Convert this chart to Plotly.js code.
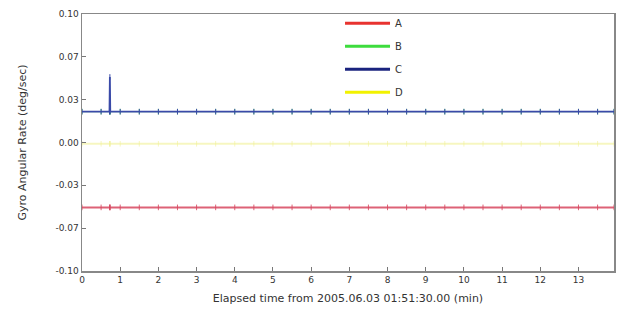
<!DOCTYPE html>
<html>
<head>
<meta charset="utf-8">
<script src="https://cdn.plot.ly/plotly-3.0.1.min.js"></script>
<style>html,body{margin:0;padding:0;background:#fff;}#chart{width:620px;height:320px;}</style>
</head>
<body>
<div id="chart"></div>
<script>
// Elapsed time (min)
const time = [0, 0.5, 0.72, 0.73, 0.74, 1, 1.5, 2, 2.5, 3, 3.5, 4, 4.5, 5, 5.5, 6, 6.5, 7, 7.5, 8, 8.5, 9, 9.5, 10, 10.5, 11, 11.5, 12, 12.5, 13, 13.5, 13.93];
const seriesA = [-0.0505,-0.0505,-0.0505,-0.0505,-0.0505,-0.0505,-0.0505,-0.0505,-0.0505,-0.0505,-0.0505,-0.0505,-0.0505,-0.0505,-0.0505,-0.0505,-0.0505,-0.0505,-0.0505,-0.0505,-0.0505,-0.0505,-0.0505,-0.0505,-0.0505,-0.0505,-0.0505,-0.0505,-0.0505,-0.0505,-0.0505,-0.0505];
const seriesB = [0.024,0.024,0.024,0.024,0.024,0.024,0.024,0.024,0.024,0.024,0.024,0.024,0.024,0.024,0.024,0.024,0.024,0.024,0.024,0.024,0.024,0.024,0.024,0.024,0.024,0.024,0.024,0.024,0.024,0.024,0.024,0.024];
const seriesC = [0.024,0.024,0.024,0.051,0.024,0.024,0.024,0.024,0.024,0.024,0.024,0.024,0.024,0.024,0.024,0.024,0.024,0.024,0.024,0.024,0.024,0.024,0.024,0.024,0.024,0.024,0.024,0.024,0.024,0.024,0.024,0.024];
const seriesD = [-0.001,-0.001,-0.001,-0.001,-0.001,-0.001,-0.001,-0.001,-0.001,-0.001,-0.001,-0.001,-0.001,-0.001,-0.001,-0.001,-0.001,-0.001,-0.001,-0.001,-0.001,-0.001,-0.001,-0.001,-0.001,-0.001,-0.001,-0.001,-0.001,-0.001,-0.001,-0.001];
const names = ['A','B','C','D'];
const yTickVals = [0.1, 0.0667, 0.0333, 0, -0.0333, -0.0667, -0.1];
const yTickText = ['0.10','0.07','0.03','0.00','-0.03','-0.07','-0.10'];
const xTickVals = [0,1,2,3,4,5,6,7,8,9,10,11,12,13];

const traceColors = ['#e8332f','#3ddc3d','#1a237e','#f2f200'];
const plotColors = ['rgba(215,70,95,0.85)','rgba(61,220,61,0.8)','#3a4aa8','rgba(240,240,150,0.6)'];
const lineWidths = [2, 1, 1.8, 2];
const vals = [seriesA, seriesB, seriesC, seriesD];

const data = [];
// draw order: B hidden under C
[1,3,0,2].forEach(i => {
  data.push({
    x: time, y: vals[i], type: 'scatter', mode: 'lines+markers',
    line: {color: plotColors[i], width: lineWidths[i]},
    marker: {symbol: 'line-ns', size: 4, line: {color: plotColors[i], width: 1}},
    showlegend: false, hoverinfo: 'skip'
  });
});
// legend entries
names.forEach((n, i) => {
  data.push({
    x: [null], y: [null], type: 'scatter', mode: 'lines', name: n,
    legendgroup: 'g' + i, legendrank: i,
    line: {color: traceColors[i], width: 3}
  });
});

const layout = {
  width: 620, height: 320,
  margin: {l: 82, r: 6, t: 14, b: 49},
  paper_bgcolor: '#fff', plot_bgcolor: '#fff',
  font: {family: 'DejaVu Sans, sans-serif', size: 9, color: '#333'},
  xaxis: {
    range: [0, 13.93], tickvals: xTickVals, ticks: 'inside', ticklen: 4, tickcolor: '#777',
    showline: true, linecolor: '#888', linewidth: 1.5, mirror: true, showgrid: false, zeroline: false,
    title: {text: 'Elapsed time from 2005.06.03 01:51:30.00 (min)', font: {size: 11, color: '#333'}, standoff: 10}
  },
  yaxis: {
    range: [-0.1, 0.1], tickvals: yTickVals, ticktext: yTickText, ticks: 'inside', ticklen: 4, tickcolor: '#777',
    showline: true, linecolor: '#888', linewidth: 1.5, mirror: true, showgrid: false, zeroline: false,
    title: {text: 'Gyro Angular Rate (deg/sec)', font: {size: 11, color: '#333'}, standoff: 26}
  },
  legend: {x: 0.485, y: 1.02, xanchor: 'left', yanchor: 'top', bgcolor: 'rgba(0,0,0,0)',
    font: {size: 10, color: '#333'}, tracegroupgap: 4, itemwidth: 45},
};
Plotly.newPlot('chart', data, layout, {displayModeBar: false, staticPlot: true});
</script>
</body>
</html>
